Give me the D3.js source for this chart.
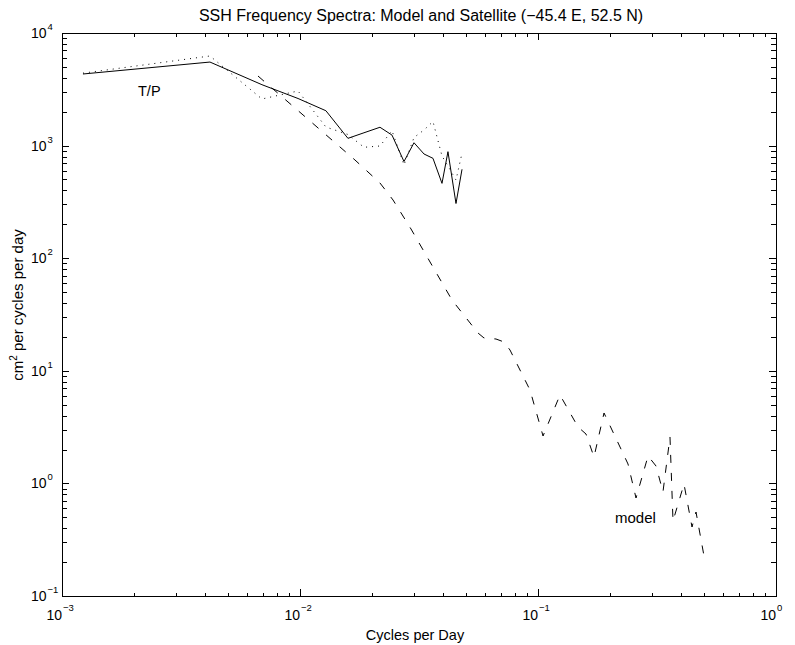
<!DOCTYPE html>
<html>
<head>
<meta charset="utf-8">
<script src="https://cdn.jsdelivr.net/npm/d3@7"></script>
<style>
  body { margin: 0; background: #fff; }
  text { font-family: "Liberation Sans", Arial, Helvetica, sans-serif; fill: #000; }
</style>
</head>
<body>
<svg id="chart" width="795" height="645"></svg>
<script>
// T/P satellite spectra (cycles per day, cm^2 per cpd)
const tpFreq = [0.001225, 0.004185, 0.00692, 0.00981, 0.01285, 0.0159, 0.01857, 0.02168, 0.02435,
                0.02735, 0.03013, 0.0332, 0.0362, 0.0395, 0.04185, 0.04523, 0.04795];
const tpSolid = [4325, 5520, 3475, 2620, 2040, 1160, 1300, 1455, 1240, 722, 1060, 842, 771, 462, 883, 306, 616];
const tpDotted = [4400, 6250, 2594, 3055, 1462, 1255, 966, 992, 1356, 673, 1180, 1377, 1637, 809, 659, 495, 859];

// model spectrum
const modelFreq = [0.00666, 0.01102, 0.01702, 0.02168, 0.0246, 0.02927, 0.04352, 0.05596, 0.05931, 0.06661,
                   0.07196, 0.07626, 0.09256, 0.105, 0.1237, 0.1473, 0.1591, 0.1719, 0.1894, 0.2389,
                   0.2581, 0.29, 0.3133, 0.335, 0.3586, 0.3692, 0.4106, 0.4437, 0.4612, 0.4983];
const modelPower = [4150, 1654, 745, 465.5, 328.7, 181.7, 42.5, 21.66, 19.56, 19.16,
                    18.03, 15.3, 6.75, 2.636, 6.10, 3.17, 2.746, 1.716, 4.22, 1.487,
                    0.742, 1.751, 1.427, 0.839, 2.583, 0.4636, 0.988, 0.41, 0.557, 0.2266];

const xTickExps = [-3, -2, -1, 0];
const yTickExps = [-1, 0, 1, 2, 3, 4];

const pLeft = 62, pRight = 776, pTop = 33, pBottom = 596;

const svg = d3.select('#chart');

const x = d3.scaleLog().domain([1e-3, 1]).range([pLeft, pRight]);
const y = d3.scaleLog().domain([1e-1, 1e4]).range([pBottom, pTop]);

const isMajor = v => Math.abs(Math.log10(v) - Math.round(Math.log10(v))) < 1e-9;
const xMinor = x.ticks().filter(v => !isMajor(v));
const yMinor = y.ticks().filter(v => !isMajor(v));
const xMajor = xTickExps.map(e => Math.pow(10, e));
const yMajor = yTickExps.map(e => Math.pow(10, e));

function drawAxis(axisFn, scale, vals, size, tx, ty) {
  svg.append('g')
    .attr('transform', `translate(${tx},${ty})`)
    .call(axisFn(scale).tickValues(vals).tickSize(size).tickSizeOuter(0).tickFormat(''))
    .call(g => g.selectAll('path, line').attr('stroke', '#000').attr('shape-rendering', 'crispEdges'));
}

// inward ticks on all four sides
drawAxis(d3.axisBottom, x, xMinor, -3.5, 0, pBottom);
drawAxis(d3.axisBottom, x, xMajor, -7, 0, pBottom);
drawAxis(d3.axisTop, x, xMinor, -3.5, 0, pTop);
drawAxis(d3.axisTop, x, xMajor, -7, 0, pTop);
drawAxis(d3.axisLeft, y, yMinor, -5, pLeft, 0);
drawAxis(d3.axisLeft, y, yMajor, -7, pLeft, 0);
drawAxis(d3.axisRight, y, yMinor, -5, pRight, 0);
drawAxis(d3.axisRight, y, yMajor, -7, pRight, 0);

const fmtExp = e => (e < 0 ? '\u2212' : '') + Math.abs(e);

// x tick labels
const xl = svg.append('g');
xTickExps.forEach(e => {
  const px = x(Math.pow(10, e));
  xl.append('text').attr('x', px).attr('y', 620).attr('text-anchor', 'end')
    .style('font-size', '14px').text('10');
  xl.append('text').attr('x', px + 1).attr('y', 611).attr('text-anchor', 'start')
    .style('font-size', '9.5px').text(fmtExp(e));
});

// y tick labels
const yl = svg.append('g');
yTickExps.forEach(e => {
  const py = y(Math.pow(10, e));
  yl.append('text').attr('x', 46.5).attr('y', py + 5).attr('text-anchor', 'end')
    .style('font-size', '14px').text('10');
  yl.append('text').attr('x', 47.5).attr('y', py - 3).attr('text-anchor', 'start')
    .style('font-size', '9.5px').text(fmtExp(e));
});

// curves
const line = d3.line().x(d => x(d[0])).y(d => y(d[1]));
const plot = svg.append('g').attr('fill', 'none').attr('stroke', '#000').attr('stroke-width', 1);

plot.append('path').datum(d3.zip(tpFreq, tpSolid)).attr('d', line);
plot.append('path').datum(d3.zip(tpFreq, tpDotted)).attr('d', line)
  .attr('stroke-dasharray', '1,5');
plot.append('path').datum(d3.zip(modelFreq, modelPower)).attr('d', line)
  .attr('stroke-dasharray', '8,10');

// annotations
svg.append('text').attr('x', 138).attr('y', 95.5).style('font-size', '14.5px').text('T/P');
svg.append('text').attr('x', 615).attr('y', 523).style('font-size', '15px').text('model');

// title and axis labels
svg.append('text').attr('x', 421).attr('y', 20.5).attr('text-anchor', 'middle')
  .style('font-size', '16px').text('SSH Frequency Spectra: Model and Satellite (\u221245.4 E, 52.5 N)');
svg.append('text').attr('x', 415).attr('y', 640).attr('text-anchor', 'middle')
  .style('font-size', '14.5px').text('Cycles per Day');

const ylab = svg.append('text').attr('transform', 'translate(23,305) rotate(-90)')
  .attr('text-anchor', 'middle').style('font-size', '15px');
ylab.append('tspan').text('cm');
ylab.append('tspan').attr('dy', -6).style('font-size', '10px').text('2');
ylab.append('tspan').attr('dy', 6).text(' per cycles per day');
</script>
</body>
</html>
